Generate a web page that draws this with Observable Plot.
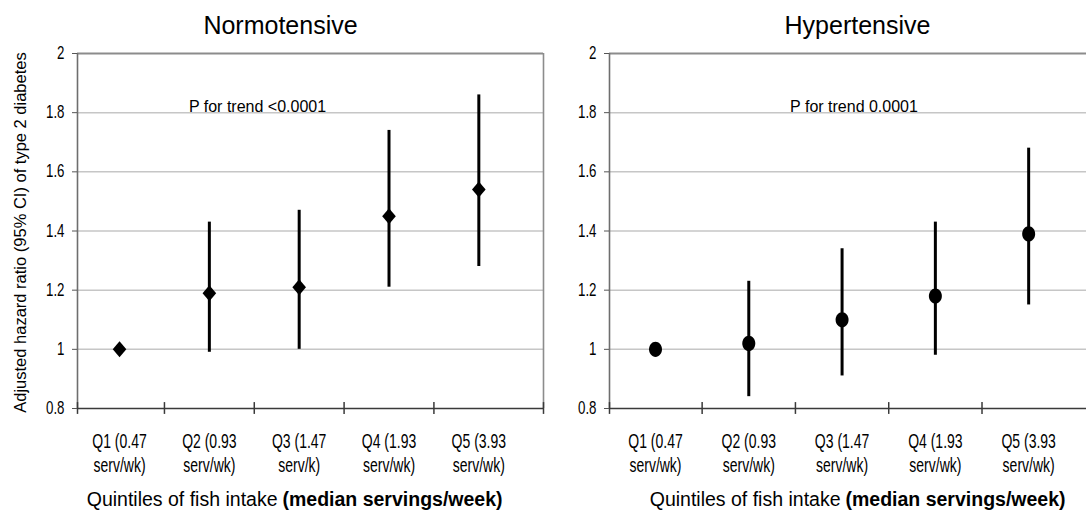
<!DOCTYPE html>
<html><head><meta charset="utf-8">
<script src="https://cdn.jsdelivr.net/npm/d3@7"></script>
<script src="https://cdn.jsdelivr.net/npm/@observablehq/plot@0.6"></script>
<style>
body{margin:0;background:#fff;}
#wrap{position:relative;width:1086px;height:510px;overflow:hidden;background:#fff;}
#left{position:absolute;left:0;top:0;}
#right{position:absolute;left:560px;top:0;}
</style></head><body><div id="wrap"><div id="left"></div><div id="right"></div></div>
<script>
// ---- data ----
const quintiles = ["Q1", "Q2", "Q3", "Q4", "Q5"];
const normoTickLabels = ["Q1 (0.47\nserv/wk)", "Q2 (0.93\nserv/wk)", "Q3 (1.47\nserv/k)", "Q4 (1.93\nserv/wk)", "Q5 (3.93\nserv/wk)"];
const hyperTickLabels = ["Q1 (0.47\nserv/wk)", "Q2 (0.93\nserv/wk)", "Q3 (1.47\nserv/wk)", "Q4 (1.93\nserv/wk)", "Q5 (3.93\nserv/wk)"];
const normoHR = [1.00, 1.19, 1.21, 1.45, 1.54];
const normoLo = [null, 0.99, 1.00, 1.21, 1.28];
const normoHi = [null, 1.43, 1.47, 1.74, 1.86];
const hyperHR = [1.00, 1.02, 1.10, 1.18, 1.39];
const hyperLo = [null, 0.84, 0.91, 0.98, 1.15];
const hyperHi = [null, 1.23, 1.34, 1.43, 1.68];
const yTicks = [0.8, 1, 1.2, 1.4, 1.6, 1.8, 2];
const gridValues = [1, 1.2, 1.4, 1.6, 1.8];
const titles = ["Normotensive", "Hypertensive"];
const trendTexts = ["P for trend <0.0001", "P for trend 0.0001"];
const yLabel = "Adjusted hazard ratio (95% CI) of type 2 diabetes";
const xLabelRegular = "Quintiles of fish intake";
const xLabelBold = "(median servings/week)";

// ---- styles ----
const SANS = "'Liberation Sans', Arial, sans-serif";

const diamondSym = {draw(ctx) { ctx.moveTo(0, -8); ctx.lineTo(6.8, 0); ctx.lineTo(0, 8); ctx.lineTo(-6.8, 0); ctx.closePath(); }};
const ellipseSym = {draw(ctx) {
  const rx = 6.5, ry = 7.6, k = 0.5523;
  ctx.moveTo(rx, 0);
  ctx.bezierCurveTo(rx, ry * k, rx * k, ry, 0, ry);
  ctx.bezierCurveTo(-rx * k, ry, -rx, ry * k, -rx, 0);
  ctx.bezierCurveTo(-rx, -ry * k, -rx * k, -ry, 0, -ry);
  ctx.bezierCurveTo(rx * k, -ry, rx, -ry * k, rx, 0);
  ctx.closePath();
}};

// horizontally condense texts (the reference uses a narrow face for tick labels)
function condenseText(t, s) {
  const tr = t.getAttribute("transform");
  if (tr) t.setAttribute("transform", tr + ` scale(${s},1)`);
  else {
    const x = t.getAttribute("x") || 0, y = t.getAttribute("y") || 0;
    t.removeAttribute("x"); t.removeAttribute("y");
    t.setAttribute("transform", `translate(${x},${y}) scale(${s},1)`);
  }
}

function panel({width, marginLeft, marginRight, xDomain, labels, hr, lo, hi, symbol, title, titleDx, trend, trendDx, xlabDx, showRight, showYLabel}) {
  const rows = quintiles.map((q, i) => ({i, q, label: labels[i], hr: hr[i], lo: lo[i], hi: hi[i]}));
  const boundaries = [xDomain[0], 0.5, 1.5, 2.5, 3.5].concat(showRight ? [xDomain[1]] : []);
  const marks = [
    Plot.ruleY(gridValues, {stroke: "#c6c6c6", strokeWidth: 1.5}),
    Plot.ruleY([2], {stroke: "#8c8c8c", strokeWidth: 2}),
    Plot.ruleX([xDomain[0]], {stroke: "#6e6e6e", strokeWidth: 1.6}),
    Plot.ruleY([0.8], {stroke: "#3a3a3a", strokeWidth: 1.6}),
    Plot.ruleX(boundaries, {x: d => d, y1: 0.78, y2: 0.82, stroke: "#3a3a3a", strokeWidth: 1.5}),
    Plot.axisY({ticks: yTicks, tickSize: 5, tickPadding: 8, tickFormat: d => String(d), label: null, fontSize: 17.5, fontFamily: SANS, fill: "#000", stroke: "#555"}),
    Plot.text(rows, {x: "i", y: 0.8, text: "label", lineAnchor: "top", dy: 22.5, lineHeight: 1.2, fontSize: 20, fontFamily: SANS, fill: "#000"}),
    Plot.ruleX(rows.filter(d => d.lo != null), {x: "i", y1: "lo", y2: "hi", stroke: "#000", strokeWidth: 3}),
    Plot.dot(rows, {x: "i", y: "hr", symbol, r: 7, fill: "#000", stroke: "none"}),
    Plot.text([title], {text: d => d, frameAnchor: "top-left", dx: titleDx, dy: -20, textAnchor: "middle", lineAnchor: "bottom", fontSize: 25, fontFamily: SANS, fill: "#000"}),
    Plot.text([trend], {text: d => d, frameAnchor: "top-left", dx: trendDx, dy: 58.5, textAnchor: "middle", lineAnchor: "bottom", fontSize: 16, fontFamily: SANS, fill: "#000"}),
    Plot.text([xLabelRegular], {text: d => d, frameAnchor: "bottom-left", dx: xlabDx, dy: 97, textAnchor: "end", lineAnchor: "bottom", fontSize: 19.5, fontFamily: SANS, fill: "#000"}),
    Plot.text([xLabelBold], {text: d => d, frameAnchor: "bottom-left", dx: xlabDx + 5, dy: 97, textAnchor: "start", lineAnchor: "bottom", fontSize: 19.5, fontWeight: "bold", fontFamily: SANS, fill: "#000"})
  ];
  if (showRight) marks.splice(3, 0, Plot.ruleX([xDomain[1]], {stroke: "#8c8c8c", strokeWidth: 1.6}));
  if (showYLabel) marks.push(Plot.text([yLabel], {text: d => d, frameAnchor: "left", dx: -57, dy: 1.5, rotate: -90, textAnchor: "middle", lineAnchor: "middle", fontSize: 16.5, fontFamily: SANS, fill: "#000"}));
  const svg = Plot.plot({
    width, height: 510, marginLeft, marginRight, marginTop: 53, marginBottom: 102,
    x: {type: "linear", domain: xDomain, axis: null},
    y: {domain: [0.8, 2], axis: null},
    style: {background: "transparent", fontFamily: SANS, overflow: "visible"},
    marks
  });
  // multi-line texts are the category tick labels
  svg.querySelectorAll("text").forEach(t => { if (t.querySelector("tspan")) condenseText(t, 0.7); });
  svg.querySelectorAll('g[aria-label="y-axis tick label"] text').forEach(t => condenseText(t, 0.76));
  return svg;
}

document.getElementById("left").append(panel({
  width: 560, marginLeft: 77, marginRight: 17, xDomain: [-0.468, 4.72],
  labels: normoTickLabels, hr: normoHR, lo: normoLo, hi: normoHi, symbol: diamondSym,
  title: titles[0], titleDx: 203, trend: trendTexts[0], trendDx: 180, xlabDx: 200, showRight: true, showYLabel: true
}));
document.getElementById("right").append(panel({
  width: 526, marginLeft: 49, marginRight: 0, xDomain: [-0.493, 4.62],
  labels: hyperTickLabels, hr: hyperHR, lo: hyperLo, hi: hyperHi, symbol: ellipseSym,
  title: titles[1], titleDx: 248, trend: trendTexts[1], trendDx: 244.5, xlabDx: 231, showRight: false, showYLabel: false
}));
</script></body></html>
